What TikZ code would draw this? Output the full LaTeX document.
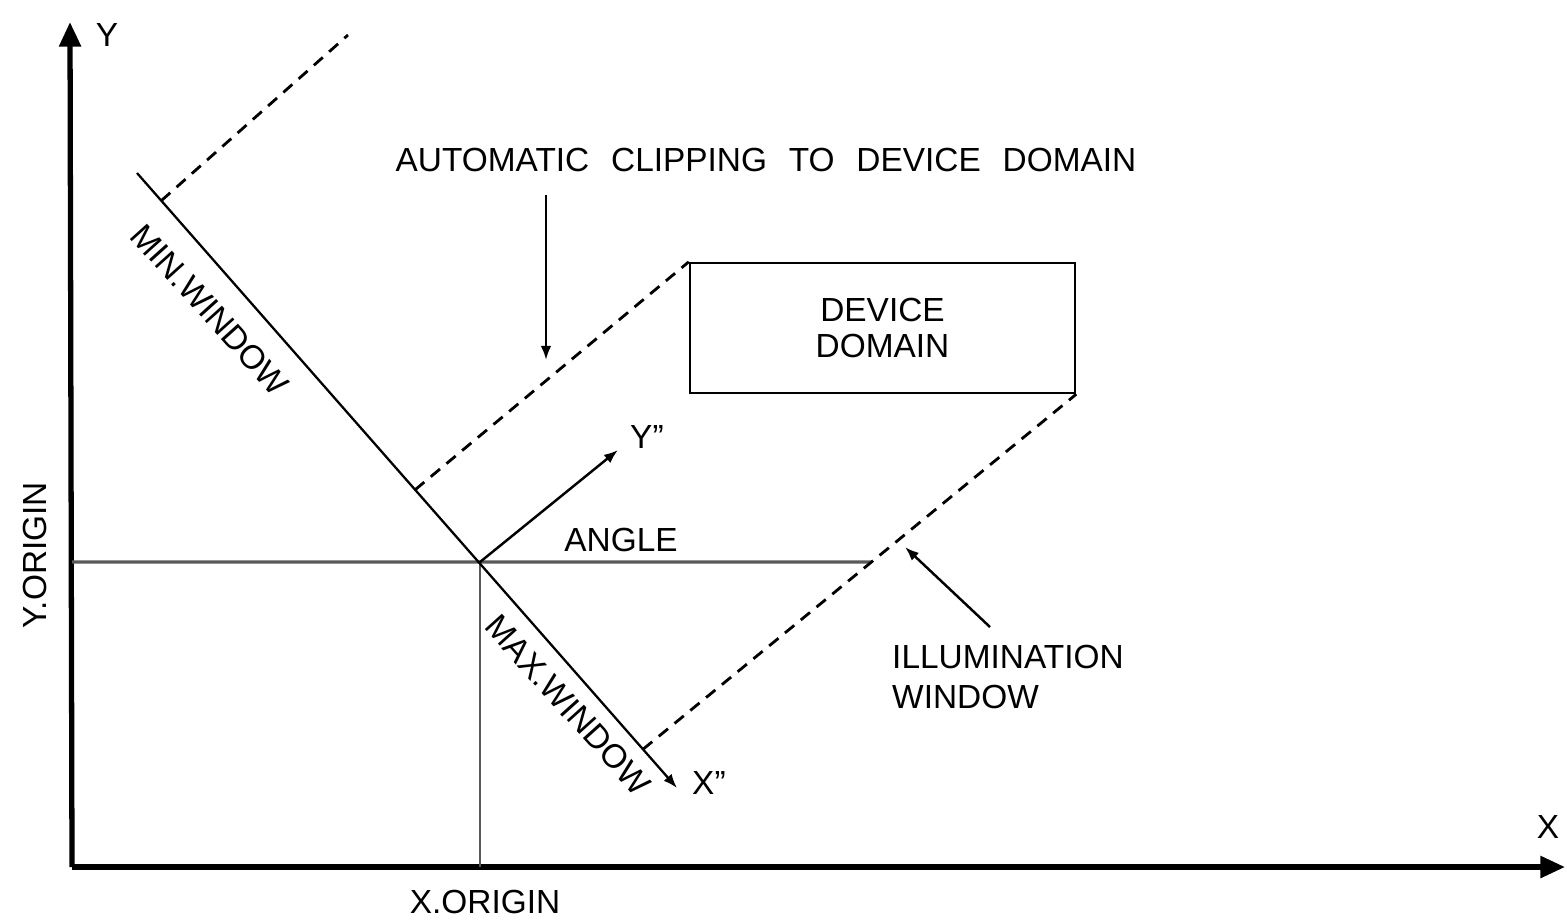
\documentclass[tikz,border=0pt]{standalone}
\usepackage{fontspec}
\setmainfont{Liberation Sans}
\usetikzlibrary{positioning,arrows.meta,calc}

\begin{document}
\begin{tikzpicture}[
  x=0.01cm, y=-0.01cm,
  txt/.style={font=\fontsize{9.5}{10.5}\selectfont, inner sep=1pt, align=center},
  axis/.style={line width=1.5pt, -{Triangle[length=7pt,width=6pt]}},
  thinline/.style={line width=0.65pt},
  guide/.style={line width=0.9pt, black!65},
  window/.style={line width=0.8pt, dash pattern=on 3.4pt off 2.4pt},
  pointer/.style={line width=0.7pt, -{Latex[length=4pt,width=3pt]}},
]
  \useasboundingbox (0,0) rectangle (1567,920);

  % axes
  \coordinate (corner) at (72,867);
  \coordinate (ytop)   at (70,22);
  \coordinate (xend)   at (1565,867);
  \draw[axis] (corner) -- (ytop);
  \draw[axis] (corner) -- (xend);
  \node[txt] (ylab) at (107,35)   {Y};
  \node[txt] (xlab) at (1548,827) {X};
  \node[txt, rotate=90] (yorigin) at (35,555) {Y.ORIGIN};
  \node[txt] (xorigin) at (485,902) {X.ORIGIN};

  % rotated frame
  \coordinate (o)     at (480,562);
  \coordinate (xs)    at (137,173);
  \coordinate (xtip)  at (677,788);
  \coordinate (ytip)  at (618,450);
  \coordinate (minw)  at ($(xs)!0.045!(xtip)$);
  \coordinate (clipw) at ($(xs)!0.515!(xtip)$);
  \coordinate (maxw)  at ($(xs)!0.937!(xtip)$);
  \coordinate (minend) at (348,35);

  \node[txt, draw, thinline, minimum width=3.85cm, minimum height=1.3cm]
    (devbox) at (882.5,328) {DEVICE\\DOMAIN};

  \coordinate (oleft)  at (o -| corner);
  \coordinate (oright) at (o -| xend);
  \coordinate (hit) at (intersection of maxw--devbox.south east and oleft--oright);
  \draw[guide] (oleft) -- (hit);
  \draw[guide, line width=0.7pt] (o) -- (o |- corner);

  \draw[thinline, -{Latex[length=4pt,width=3pt]}] (xs) -- (xtip);
  \draw[pointer] (o) -- (ytip);
  \node[txt, anchor=west] (xprime) at (688,783) {X''};
  \node[txt, anchor=west] (yprime) at (626,437) {Y''};

  \draw[window] (minw) -- (minend);
  \draw[window] (clipw) -- (devbox.north west);
  \draw[window] (maxw) -- (devbox.south east);

  \node[txt, rotate=-48] (minlab) at (210,310) {MIN.WINDOW};
  \node[txt, rotate=-48] (maxlab) at (568,705) {MAX.WINDOW};
  \node[txt] (angle) at (621,540) {ANGLE};

  % callouts
  \node[txt] (clipping) at (766,160)
    {\spaceskip=6.2pt\relax AUTOMATIC CLIPPING TO DEVICE DOMAIN};
  \coordinate (clipa) at (546,195);
  \coordinate (clipb) at (546,360);
  \draw[pointer] (clipa) -- (clipb);

  \node[txt, align=left, anchor=west, font=\fontsize{9.5}{11.6}\selectfont]
    (illum) at (888,677) {ILLUMINATION\\WINDOW};
  \coordinate (illa) at (990,627);
  \coordinate (illb) at (905,547);
  \draw[pointer] (illa) -- (illb);
\end{tikzpicture}
\end{document}
